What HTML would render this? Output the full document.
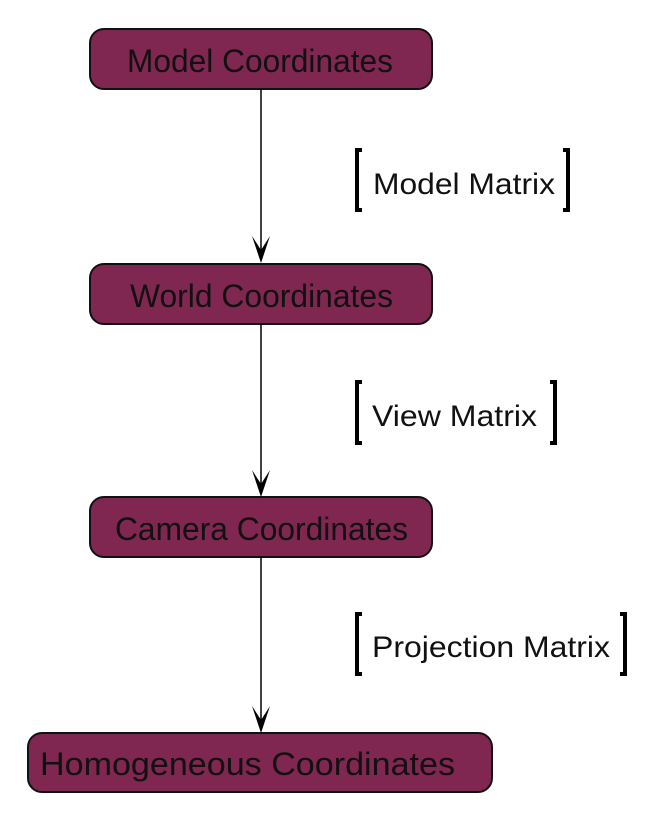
<!DOCTYPE html>
<html><head><meta charset="utf-8"><style>html,body{margin:0;padding:0;background:#fff}svg{display:block}</style></head>
<body>
<svg width="670" height="826" viewBox="0 0 670 826" xmlns="http://www.w3.org/2000/svg" font-family="Liberation Sans, Arial, sans-serif">
<g fill="#7f2750" stroke="#111" stroke-width="2">
<rect x="90" y="29" width="342" height="60" rx="14"/>
<rect x="90" y="264" width="342" height="60" rx="14"/>
<rect x="90" y="497" width="342" height="60" rx="14"/>
<rect x="28" y="733" width="464" height="59" rx="14"/>
</g>
<g stroke="#000" stroke-width="1.5">
<line x1="261" y1="89" x2="261" y2="258"/>
<line x1="261" y1="324" x2="261" y2="491"/>
<line x1="261" y1="557" x2="261" y2="727"/>
</g>
<g fill="#000">
<path d="M252,236 L261,263 L270,236 L261,250 Z"/>
<path d="M252,470 L261,497 L270,470 L261,484 Z"/>
<path d="M252,706 L261,733 L270,706 L261,720 Z"/>
</g>
<g fill="#111" font-size="32">
<text x="127" y="72" textLength="266" lengthAdjust="spacingAndGlyphs">Model Coordinates</text>
<text x="130" y="307" textLength="263" lengthAdjust="spacingAndGlyphs">World Coordinates</text>
<text x="115" y="540" textLength="293" lengthAdjust="spacingAndGlyphs">Camera Coordinates</text>
<text x="40" y="775" textLength="415" lengthAdjust="spacingAndGlyphs">Homogeneous Coordinates</text>
</g>
<g fill="none" stroke="#000" stroke-width="4">
<path d="M362,150 H357 V210 H362"/>
<path d="M563,150 H568 V210 H563"/>
<path d="M362,382 H357 V443 H362"/>
<path d="M550,382 H555 V443 H550"/>
<path d="M362,614 H357 V674 H362"/>
<path d="M620,614 H625 V674 H620"/>
</g>
<g fill="#111" font-size="30">
<text x="373" y="194" textLength="182" lengthAdjust="spacingAndGlyphs">Model Matrix</text>
<text x="372" y="426" textLength="165" lengthAdjust="spacingAndGlyphs">View Matrix</text>
<text x="372" y="657" textLength="238" lengthAdjust="spacingAndGlyphs">Projection Matrix</text>
</g>
</svg>
</body></html>
